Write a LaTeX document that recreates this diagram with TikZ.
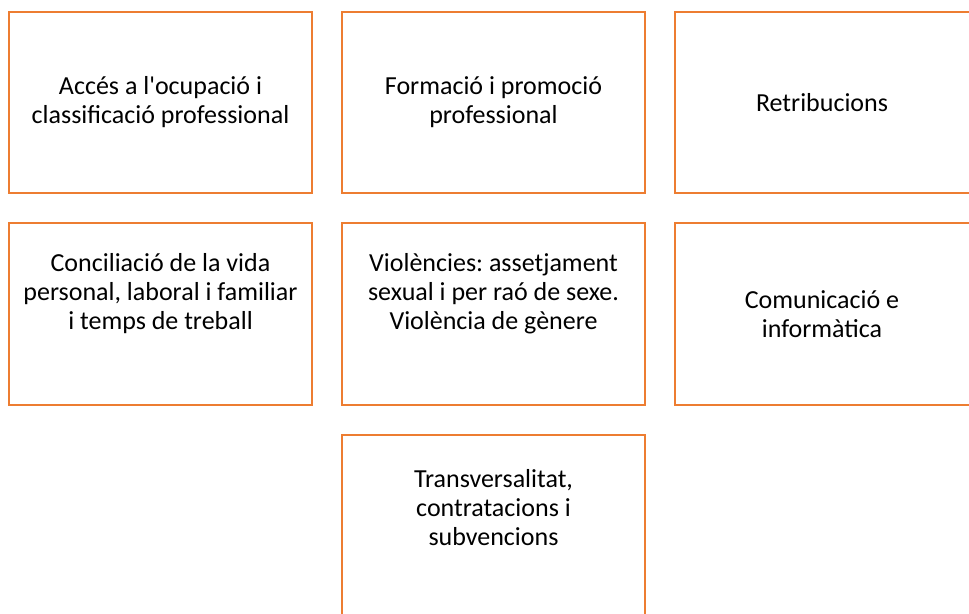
\documentclass[tikz,border=0pt]{standalone}
\usepackage{fontspec}
\setmainfont{Carlito}
\definecolor{taronja}{RGB}{237,125,49}
\begin{document}
\begin{tikzpicture}[x=1pt, y=-1pt,
    caixa/.style={draw=taronja, line width=2.2pt, minimum width=303pt, minimum height=181pt, inner sep=0pt},
    rotul/.style={align=center, inner sep=0pt, font=\fontsize{26}{29}\selectfont\frenchspacing}]
    \useasboundingbox (0,0) rectangle (969,613);
    \clip (0,0) rectangle (969,613);

    % caixes
    \node[caixa] (acces) at (160.5,102.5) {};
    \node[caixa] (formacio) at (493.5,102.5) {};
    \node[caixa] (retribucions) at (826.5,102.5) {};
    \node[caixa, minimum height=182pt] (conciliacio) at (160.5,314) {};
    \node[caixa, minimum height=182pt] (violencies) at (493.5,314) {};
    \node[caixa, minimum height=182pt] (comunicacio) at (826.5,314) {};
    \node[caixa] (transversalitat) at (493.5,525.5) {};

    % textos
    \node[rotul] (acces-t) at (acces) {Accés a l\textquotesingle ocupació i\\classificació professional};
    \node[rotul] (formacio-t) at (formacio) {Formació i promoció\\professional};
    \node[rotul] (retribucions-t) at ([xshift=-4.5pt]retribucions.center) {Retribucions};
    \node[rotul] (conciliacio-t) at ([yshift=20pt]conciliacio.center) {Conciliació de la vida\\personal, laboral i familiar\\i temps de treball};
    \node[rotul] (violencies-t) at ([yshift=20pt]violencies.center) {Violències: assetjament\\sexual i per raó de sexe.\\Violència de gènere};
    \node[rotul] (comunicacio-t) at ([xshift=-4.5pt]comunicacio.center) {Comunicació e\\informàtica};
    \node[rotul] (transversalitat-t) at ([yshift=18pt]transversalitat.center) {Transversalitat,\\contratacions i\\subvencions};
\end{tikzpicture}
\end{document}
